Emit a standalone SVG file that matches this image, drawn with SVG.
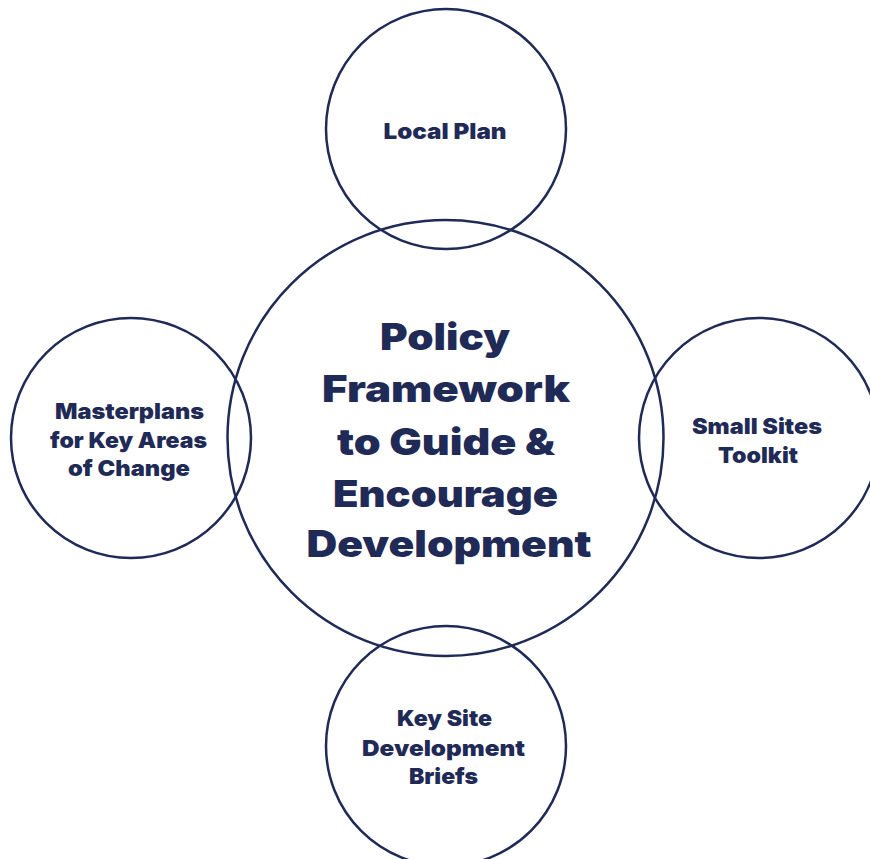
<svg xmlns="http://www.w3.org/2000/svg" width="870" height="859" viewBox="0 0 870 859">
<style>
.c{fill:none;stroke:#1f2a56;stroke-width:2.5}
.t{font-family:Inter,"Liberation Sans",sans-serif;font-weight:900;fill:#1f2a56;text-anchor:middle}
.s{font-size:22px}
.b{font-size:37px}
</style>
<rect width="870" height="859" fill="#ffffff"/>
<g id="connectors"></g>
<g id="local-plan">
<circle class="c" cx="446" cy="129" r="120"/>
<text class="t s" x="445" y="139" textLength="123" lengthAdjust="spacingAndGlyphs">Local Plan</text>
</g>
<g id="policy-framework">
<circle class="c" cx="445.5" cy="438" r="218"/>
<text class="t b" x="445" y="350" textLength="130" lengthAdjust="spacingAndGlyphs">Policy</text>
<text class="t b" x="446" y="402" textLength="248" lengthAdjust="spacingAndGlyphs">Framework</text>
<text class="t b" x="446" y="455" textLength="218" lengthAdjust="spacingAndGlyphs">to Guide &amp;</text>
<text class="t b" x="445.5" y="507" textLength="225" lengthAdjust="spacingAndGlyphs">Encourage</text>
<text class="t b" x="449" y="557" textLength="285" lengthAdjust="spacingAndGlyphs">Development</text>
</g>
<g id="masterplans">
<circle class="c" cx="131" cy="438" r="120"/>
<text class="t s" x="129.5" y="419" textLength="149" lengthAdjust="spacingAndGlyphs">Masterplans</text>
<text class="t s" x="128.5" y="448" textLength="157" lengthAdjust="spacingAndGlyphs">for Key Areas</text>
<text class="t s" x="129" y="476" textLength="122" lengthAdjust="spacingAndGlyphs">of Change</text>
</g>
<g id="small-sites">
<circle class="c" cx="759" cy="438" r="120"/>
<text class="t s" x="757" y="434" textLength="130" lengthAdjust="spacingAndGlyphs">Small Sites</text>
<text class="t s" x="758" y="463" textLength="80" lengthAdjust="spacingAndGlyphs">Toolkit</text>
</g>
<g id="key-site">
<circle class="c" cx="446" cy="746" r="120"/>
<text class="t s" x="444.5" y="726" textLength="95" lengthAdjust="spacingAndGlyphs">Key Site</text>
<text class="t s" x="443.5" y="756" textLength="163" lengthAdjust="spacingAndGlyphs">Development</text>
<text class="t s" x="443.5" y="784" textLength="69" lengthAdjust="spacingAndGlyphs">Briefs</text>
</g>
</svg>
